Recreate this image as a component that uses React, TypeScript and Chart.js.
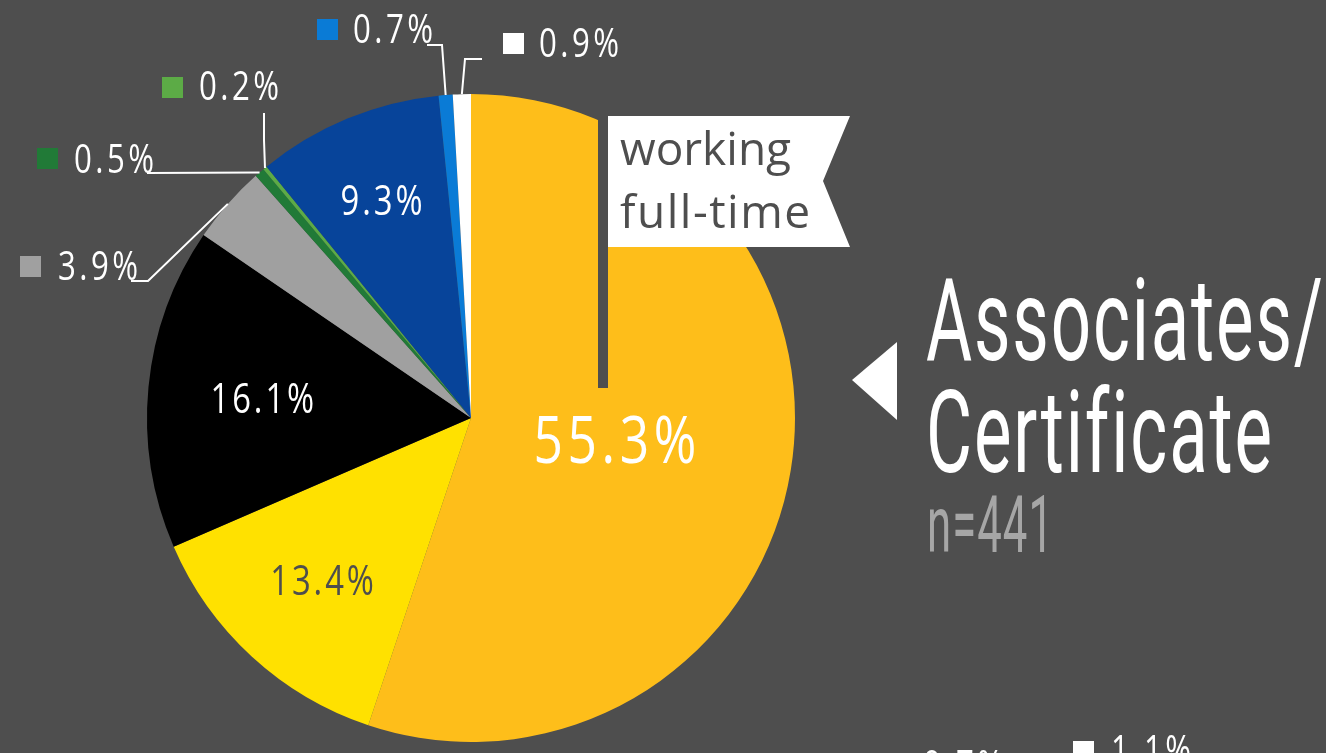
import React, { useEffect, useRef } from "react";
import { Chart, registerables } from "chart.js";

Chart.register(...registerables);

// ---- data ----
const categories = [
  "working full-time",
  "category 2",
  "category 3",
  "category 4",
  "category 5",
  "category 6",
  "category 7",
  "category 8",
  "category 9",
];
const values = [55.3, 13.4, 16.1, 3.9, 0.5, 0.2, 9.3, 0.7, 0.9];
const sliceColors = [
  "#FEBE1A",
  "#FFE100",
  "#000000",
  "#A0A0A0",
  "#217A37",
  "#5CAB46",
  "#07449A",
  "#0A7BD6",
  "#FFFFFF",
];
const titleLines = ["Associates/", "Certificate"];
const sampleLabel = "n=441";
const calloutLines = ["working", "full-time"];
const partialValues = [0.7, 1.1];

const BG = "#4E4E4E";
const W = 1326;
const H = 753;

type TextOpts = {
  size: number;
  family?: string;
  color: string;
  sx?: number;
  spacing?: number;
  align?: "left" | "center" | "right";
  weight?: string;
  fitWidth?: number;
};

function drawText(ctx: CanvasRenderingContext2D, text: string, x: number, y: number, o: TextOpts) {
  ctx.save();
  const fam = o.family || "'Open Sans', sans-serif";
  ctx.font = `${o.weight || "400"} ${o.size}px ${fam}`;
  const sp = o.spacing || 0;
  (ctx as any).letterSpacing = `${sp}px`;
  let w = ctx.measureText(text).width - sp;
  let sx = o.sx ?? 1;
  if (o.fitWidth) sx = o.fitWidth / w;
  const ew = w * sx;
  let x0 = x;
  if (o.align === "center") x0 = x - ew / 2;
  else if (o.align === "right") x0 = x - ew;
  ctx.translate(x0, y);
  ctx.scale(sx, 1);
  ctx.fillStyle = o.color;
  ctx.textAlign = "left";
  ctx.textBaseline = "alphabetic";
  ctx.fillText(text, 0, 0);
  ctx.restore();
  return sx;
}

function pctLabel(v: number) {
  return v.toFixed(1) + "%";
}

// inside labels: slice index -> radius fraction, size, color
const insideLabels = [
  { i: 0, r: 0.45, size: 66, color: "#FFFFFF", dy: 22 },
  { i: 1, r: 0.68, size: 42, color: "#4E4E4E", dy: 15 },
  { i: 2, r: 0.647, size: 42, color: "#FFFFFF", dy: 15 },
  { i: 6, r: 0.724, size: 42, color: "#FFFFFF", dy: 14 },
];

// outside labels: square pos, text pos, leader path start points (edge point appended from arc)
const outsideLabels = [
  { i: 3, sq: [20, 256], tx: [58, 280], path: [[131, 281], [148, 281]] },
  { i: 4, sq: [37, 148], tx: [74, 173], path: [[147, 173]] },
  { i: 5, sq: [162, 77], tx: [199, 100], path: [[264, 113], [264, 140]] },
  { i: 7, sq: [317, 19], tx: [353, 43], path: [[427, 45], [442, 45]] },
  { i: 8, sq: [503, 33], tx: [539, 57], path: [[482, 59], [465, 59]] },
];

const overlayPlugin = {
  id: "overlay",
  beforeDraw(chart: any) {
    const ctx = chart.ctx as CanvasRenderingContext2D;
    ctx.save();
    ctx.fillStyle = BG;
    ctx.fillRect(0, 0, chart.width, chart.height);
    ctx.restore();
  },
  afterDraw(chart: any) {
    const ctx = chart.ctx as CanvasRenderingContext2D;
    const meta = chart.getDatasetMeta(0);
    const arcs = meta.data;

    const pointAt = (idx: number, frac: number) => {
      const a = arcs[idx];
      const mid = (a.startAngle + a.endAngle) / 2;
      const r = a.outerRadius * frac;
      return [a.x + Math.cos(mid) * r, a.y + Math.sin(mid) * r];
    };

    // inside labels
    for (const l of insideLabels) {
      const [px, py] = pointAt(l.i, l.r);
      drawText(ctx, pctLabel(values[l.i]), px, py + l.dy, {
        size: l.size,
        color: l.color,
        sx: 0.78,
        spacing: l.size * 0.09,
        align: "center",
      });
    }

    // outside labels + leaders
    for (const l of outsideLabels) {
      ctx.save();
      ctx.fillStyle = sliceColors[l.i];
      ctx.fillRect(l.sq[0], l.sq[1], 21, 21);
      ctx.restore();
      drawText(ctx, pctLabel(values[l.i]), l.tx[0], l.tx[1], {
        size: 40,
        color: "#FFFFFF",
        sx: 0.78,
        spacing: 40 * 0.11,
      });
      const edge = pointAt(l.i, 1.0);
      ctx.save();
      ctx.strokeStyle = "#FFFFFF";
      ctx.lineWidth = 2;
      ctx.beginPath();
      ctx.moveTo(l.path[0][0], l.path[0][1]);
      for (let k = 1; k < l.path.length; k++) ctx.lineTo(l.path[k][0], l.path[k][1]);
      ctx.lineTo(edge[0], edge[1]);
      ctx.stroke();
      ctx.restore();
    }

    // callout flag
    ctx.save();
    ctx.fillStyle = BG;
    ctx.fillRect(598, 116, 10, 272);
    ctx.fillStyle = "#FFFFFF";
    ctx.beginPath();
    ctx.moveTo(608, 116);
    ctx.lineTo(850, 116);
    ctx.lineTo(823, 181);
    ctx.lineTo(850, 247);
    ctx.lineTo(608, 247);
    ctx.closePath();
    ctx.fill();
    ctx.restore();
    drawText(ctx, calloutLines[0], 620, 165, { size: 46, color: BG });
    drawText(ctx, calloutLines[1], 620, 228, { size: 46, color: BG, spacing: 1.5 });

    // title
    ctx.save();
    ctx.fillStyle = "#FFFFFF";
    ctx.beginPath();
    ctx.moveTo(852, 380);
    ctx.lineTo(897, 342);
    ctx.lineTo(897, 420);
    ctx.closePath();
    ctx.fill();
    ctx.restore();
    const tf = "Roboto, sans-serif";
    const sx = drawText(ctx, titleLines[0], 926, 360, {
      size: 115,
      family: tf,
      weight: "400",
      color: "#FFFFFF",
      fitWidth: 397,
      spacing: 3,
    });
    drawText(ctx, titleLines[1], 926, 472, {
      size: 115,
      family: tf,
      weight: "400",
      color: "#FFFFFF",
      sx,
      spacing: 3,
    });
    drawText(ctx, sampleLabel, 927, 552, {
      size: 80,
      family: tf,
      weight: "400",
      color: "#A6A6A6",
      fitWidth: 126,
      spacing: 2,
    });

    // partial labels of next chart (cut off at bottom)
    drawText(ctx, pctLabel(partialValues[0]), 923, 779, {
      size: 40,
      color: "#FFFFFF",
      sx: 0.78,
      spacing: 40 * 0.11,
    });
    ctx.save();
    ctx.fillStyle = "#FFFFFF";
    ctx.fillRect(1073, 741, 21, 21);
    ctx.restore();
    drawText(ctx, pctLabel(partialValues[1]), 1111, 764, {
      size: 40,
      color: "#FFFFFF",
      sx: 0.78,
      spacing: 40 * 0.11,
    });
  },
};

export default function App() {
  const ref = useRef<HTMLCanvasElement | null>(null);
  useEffect(() => {
    document.body.style.margin = "0";
    document.body.style.background = BG;
    const canvas = ref.current!;
    const chart = new Chart(canvas, {
      type: "pie",
      data: {
        labels: categories,
        datasets: [
          {
            data: values,
            backgroundColor: sliceColors,
            borderWidth: 0,
          },
        ],
      },
      options: {
        responsive: false,
        maintainAspectRatio: false,
        animation: false,
        devicePixelRatio: 1,
        layout: { padding: { left: 147, top: 94, right: 531, bottom: 11 } },
        plugins: {
          legend: { display: false },
          tooltip: { enabled: false },
          title: { display: false },
        },
      },
      plugins: [overlayPlugin],
    });
    return () => chart.destroy();
  }, []);
  return (
    <div style={{ position: "fixed", left: 0, top: 0, width: W, height: H, background: BG, overflow: "hidden" }}>
      <canvas ref={ref} width={W} height={H} style={{ display: "block", width: W, height: H }} />
    </div>
  );
}
